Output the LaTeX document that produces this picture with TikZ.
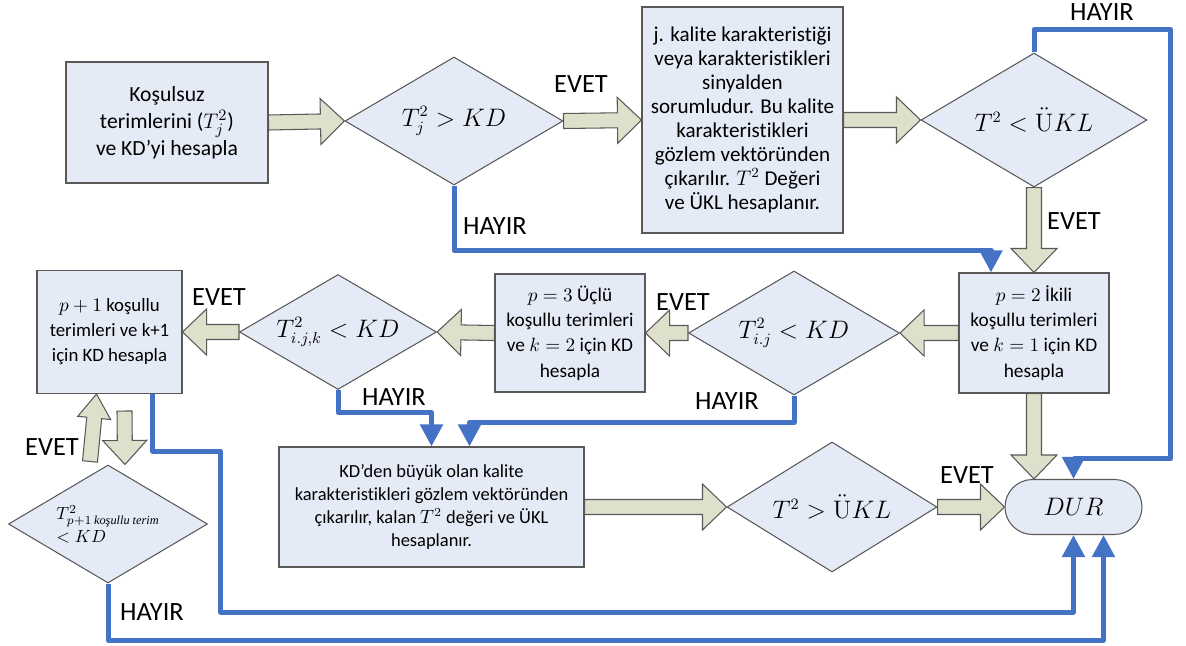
\documentclass[tikz,border=0pt]{standalone}
\usepackage{amsmath}
\usepackage[no-math]{fontspec}
\setmainfont{Carlito}[Ligatures=NoCommon]
\newfontfamily\serifit{Liberation Serif}
\usetikzlibrary{positioning, calc, shapes.geometric, arrows.meta}
\definecolor{BoxFill}{HTML}{E5EBF6}
\definecolor{BoxLine}{HTML}{595959}
\definecolor{ArrFill}{HTML}{DDE1CB}
\definecolor{FlowBlue}{HTML}{4472C4}

\begin{document}
\begin{tikzpicture}[x=0.2mm, y=-0.2mm,
  kutu/.style={draw=BoxLine, fill=BoxFill, line width=0.6pt, align=center, inner sep=2pt, font=\fontsize{11}{14.4}\selectfont},
  karar/.style={diamond, draw=BoxLine, fill=BoxFill, line width=0.6pt, aspect=1.7, inner sep=0pt, font=\fontsize{13.5}{16}\selectfont},
  blok/.style={fill=ArrFill, draw=BoxLine, line width=0.6pt},
  hayir/.style={draw=FlowBlue, line width=1mm, line join=round, -{Triangle[width=4.4mm,length=4.4mm]}},
  etiket/.style={font=\fontsize{15}{17}\selectfont}]
  \useasboundingbox (0,0) rectangle (1186,646);

  % top row
  \node[kutu, minimum width=40.4mm, minimum height=24.2mm, font=\fontsize{12.3}{15.4}\selectfont] (k1) at (167,122.5) {Koşulsuz\\terimlerini ($T_j^2$)\\ve KD’yi hesapla};
  \node[karar, minimum width=43.6mm, minimum height=25.6mm] (d1) at (454,121) {$T_j^2 > KD$};
  \node[kutu, minimum width=40.2mm, minimum height=45.2mm, font=\fontsize{12}{13.6}\selectfont] (k2) at (742.5,120) {j. kalite karakteristiği\\veya karakteristikleri\\sinyalden\\sorumludur. Bu kalite\\karakteristikleri\\gözlem vektöründen\\çıkarılır. $T^2$ Değeri\\ve ÜKL hesaplanır.};
  \node[karar, minimum width=45.2mm, minimum height=26.8mm] (d2) at (1034,120) {$T^2 < \ddot{\mathrm{U}}KL$};

  % middle row
  \node[kutu, minimum width=30mm, minimum height=24mm] (k3) at (1034,333) {$p=2$ İkili\\koşullu terimleri\\ve $k=1$ için KD\\hesapla};
  \node[karar, minimum width=42.2mm, minimum height=24.8mm] (d3) at (794,333) {$T_{i.j}^2 < KD$};
  \node[kutu, minimum width=30mm, minimum height=23.6mm] (k4) at (570,333) {$p=3$ Üçlü\\koşullu terimleri\\ve $k=2$ için KD\\hesapla};
  \node[karar, minimum width=39.4mm, minimum height=23mm] (d4) at (338,332) {$T_{i.j,k}^2 < KD$};
  \node[kutu, minimum width=29mm, minimum height=24.6mm, font=\fontsize{10.7}{14.2}\selectfont] (k6) at (109.5,332) {$p+1$ koşullu\\terimleri ve k+1\\için KD hesapla};

  % bottom row
  \node[karar, minimum width=39.8mm, minimum height=23.6mm, align=left, font=\fontsize{10}{13}\selectfont] (d6) at (108,524) {$T^2_{p+1\,\text{\serifit\itshape koşullu terim}}$\\$<KD$};
  \node[kutu, minimum width=61mm, minimum height=24mm, font=\fontsize{10.5}{13}\selectfont] (k5) at (431.5,507) {KD’den büyük olan kalite\\karakteristikleri gözlem vektöründen\\çıkarılır, kalan $T^2$ değeri ve ÜKL\\hesaplanır.};
  \node[karar, minimum width=42mm, minimum height=26mm] (d5) at (832,507) {$T^2 > \ddot{\mathrm{U}}KL$};
  \node[kutu, rounded corners=5.5mm, minimum width=27.4mm, minimum height=11mm, font=\fontsize{13.5}{16}\selectfont] (dur) at (1073.5,507) {$DUR$};

  % block arrows
  \coordinate (u1) at ($(d6.north)+(-18,-3)$);
  \coordinate (u2) at ($(k6.south)+(-13,0)$);
  \coordinate (v1) at ($(k6.south)+(15,17)$);
  \coordinate (v2) at ($(d6.north)+(17,0)$);
  \coordinate (t3) at (k3.south |- dur.north);
  \foreach \a/\b/\w in {k1.east/d1.west/4.6mm, d1.east/k2.west/4.6mm, k2.east/d2.west/4.6mm,
    d2.south/k3.north/4.6mm, k3.west/d3.east/4.6mm, d3.west/k4.east/4.6mm, k4.west/d4.east/4.6mm,
    d4.west/k6.east/4.6mm, u1/u2/3.3mm, v1/v2/4.4mm, k5.east/d5.west/4.6mm,
    d5.east/dur.west/4.6mm, k3.south/t3/4.6mm}{
    \coordinate (hb) at ($(\b)!4.8mm!(\a)$);
    \filldraw[blok] ($(\a)!1.5mm!90:(\b)$) -- ($(hb)!1.5mm!90:(\b)$) -- ($(hb)!\w!90:(\b)$) -- (\b)
      -- ($(hb)!\w!-90:(\b)$) -- ($(hb)!1.5mm!-90:(\b)$) -- ($(\a)!1.5mm!-90:(\b)$) -- cycle;
  }

  % HAYIR lines
  \draw[hayir] (d1.south) |- ($(k3.north)+(-43,-22)$) -- ($(k3.north)+(-43,0)$);
  \draw[hayir] (d2.north) -- ++(0,-23) -| ($(dur.north)+(97,-20)$) -| (dur.north);
  \draw[hayir] (d3.south) |- ($(k5.north)+(38,-24)$) -- ($(k5.north)+(38,0)$);
  \draw[hayir] (d4.south) |- ($(k5.north)+(0,-34)$) -- (k5.north);
  \draw[hayir] ($(k6.south)+(43,0)$) -- ++(0,57) -- ++(68,0) |- ($(dur.south)+(0,77)$) -- (dur.south);
  \draw[hayir] (d6.south) |- ($(dur.south)+(30,105)$) -- ($(dur.south)+(30,0)$);

  % labels
  \node[etiket] (e1) at (581,84) {EVET};
  \node[etiket] (e2) at (1074,221) {EVET};
  \node[etiket] (e3) at (683,302) {EVET};
  \node[etiket] (e4) at (219,297) {EVET};
  \node[etiket] (e5) at (52,447) {EVET};
  \node[etiket] (e6) at (967,475) {EVET};
  \node[etiket] (h1) at (495,226) {HAYIR};
  \node[etiket] (h2) at (1102,12) {HAYIR};
  \node[etiket] (h3) at (394,397) {HAYIR};
  \node[etiket] (h4) at (727,401) {HAYIR};
  \node[etiket] (h5) at (152,612) {HAYIR};
\end{tikzpicture}
\end{document}
